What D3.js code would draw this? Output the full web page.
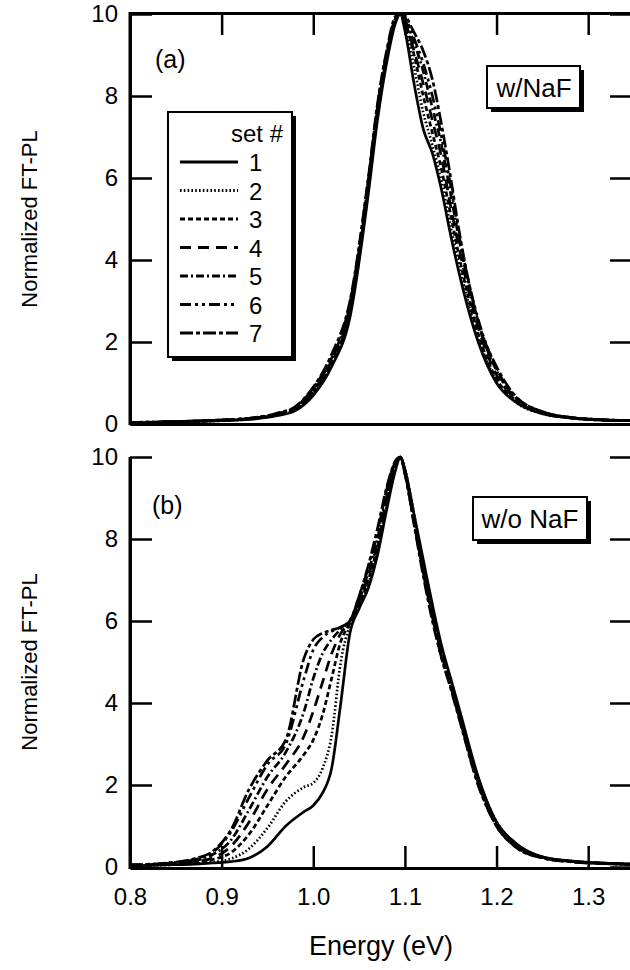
<!DOCTYPE html>
<html><head><meta charset="utf-8">
<script src="https://cdn.jsdelivr.net/npm/d3@7"></script>
<style>
html,body{margin:0;padding:0;background:#fff;}
svg{display:block;font-family:"Liberation Sans",Arial,Helvetica,sans-serif;}
</style></head>
<body>
<svg id="chart" width="630" height="970"></svg>
<script>
// ---------- data ----------
const setLabels = ["1","2","3","4","5","6","7"];
const xTicks = [0.8,0.9,1.0,1.1,1.2,1.3];
const yTicks = [0,2,4,6,8,10];

// panel (a): w/NaF
const energyA = [0.80,0.85,0.90,0.93,0.96,0.98,1.00,1.02,1.04,1.06,1.07,1.08,1.09,1.095,1.10,1.11,1.12,1.13,1.14,1.15,1.16,1.18,1.20,1.22,1.25,1.28,1.31,1.35];
const setA1 = [0.03,0.05,0.08,0.11,0.20,0.32,0.70,1.40,2.60,5.60,7.40,8.80,9.80,10, 9.60,8.30,7.20,6.60,5.70,4.60,3.60,2.00,1.00,0.55,0.25,0.15,0.10,0.08];
const setA2 = [0.03,0.05,0.08,0.12,0.22,0.35,0.75,1.45,2.70,5.70,7.50,8.90,9.85,10, 9.70,8.70,7.60,6.80,5.90,4.80,3.80,2.10,1.05,0.55,0.25,0.15,0.10,0.08];
const setA3 = [0.03,0.05,0.09,0.12,0.22,0.35,0.78,1.50,2.75,5.75,7.55,8.90,9.85,10, 9.80,9.00,8.00,7.10,6.20,5.10,4.00,2.20,1.10,0.60,0.27,0.15,0.10,0.08];
const setA4 = [0.03,0.05,0.09,0.13,0.23,0.36,0.80,1.55,2.80,5.80,7.60,8.95,9.90,10, 9.80,9.10,8.30,7.40,6.50,5.30,4.20,2.35,1.20,0.62,0.28,0.16,0.10,0.08];
const setA5 = [0.03,0.06,0.09,0.13,0.24,0.38,0.85,1.60,2.90,5.90,7.70,9.00,9.90,10, 9.85,9.30,8.60,7.70,6.80,5.60,4.40,2.45,1.30,0.65,0.30,0.16,0.11,0.08];
const setA6 = [0.04,0.06,0.10,0.14,0.25,0.40,0.88,1.65,2.95,5.95,7.75,9.05,9.90,10, 9.90,9.40,8.80,8.00,7.00,5.80,4.50,2.55,1.35,0.68,0.30,0.16,0.11,0.08];
const setA7 = [0.04,0.06,0.10,0.14,0.26,0.42,0.90,1.70,3.00,6.00,7.80,9.10,9.95,10, 9.95,9.55,9.10,8.40,7.30,6.00,4.60,2.50,1.40,0.70,0.30,0.16,0.11,0.08];

// panel (b): w/o NaF
const energyB = [0.80,0.84,0.87,0.89,0.91,0.93,0.95,0.97,0.99,1.00,1.01,1.02,1.03,1.04,1.05,1.06,1.07,1.08,1.09,1.095,1.10,1.11,1.12,1.13,1.14,1.15,1.16,1.18,1.20,1.22,1.25,1.28,1.31,1.35];
const setB1 = [0.03,0.05,0.07,0.10,0.13,0.22,0.50,1.00,1.35,1.50,1.80,2.40,4.00,5.70,6.30,6.80,7.60,8.70,9.70,10, 9.70,8.60,7.50,6.40,5.40,4.60,3.80,2.20,1.10,0.60,0.25,0.15,0.10,0.07];
const setB2 = [0.03,0.05,0.08,0.12,0.20,0.45,0.95,1.60,1.95,2.05,2.40,3.20,5.00,5.90,6.35,6.90,7.70,8.80,9.75,10, 9.70,8.60,7.40,6.30,5.30,4.50,3.70,2.15,1.10,0.58,0.25,0.15,0.10,0.07];
const setB3 = [0.03,0.06,0.10,0.18,0.35,0.80,1.50,2.20,2.75,3.10,3.70,4.60,5.50,5.95,6.40,7.00,7.80,8.90,9.80,10, 9.65,8.50,7.30,6.20,5.30,4.50,3.70,2.10,1.05,0.55,0.24,0.14,0.10,0.07];
const setB4 = [0.04,0.07,0.12,0.22,0.50,1.10,1.90,2.50,3.20,3.80,4.50,5.20,5.70,6.00,6.45,7.10,7.90,9.00,9.85,10, 9.65,8.50,7.30,6.20,5.20,4.45,3.65,2.10,1.05,0.55,0.24,0.14,0.10,0.07];
const setB5 = [0.04,0.08,0.15,0.30,0.65,1.40,2.20,2.80,3.80,4.60,5.20,5.55,5.80,6.00,6.50,7.20,8.00,9.10,9.90,10, 9.60,8.40,7.20,6.10,5.20,4.40,3.60,2.05,1.00,0.52,0.23,0.14,0.09,0.07];
const setB6 = [0.05,0.09,0.18,0.35,0.85,1.70,2.50,3.00,4.60,5.30,5.60,5.75,5.85,6.02,6.60,7.30,8.15,9.20,9.90,10, 9.60,8.40,7.20,6.10,5.10,4.40,3.60,2.00,1.00,0.50,0.22,0.13,0.09,0.06];
const setB7 = [0.05,0.10,0.20,0.38,0.90,1.90,2.60,3.10,5.10,5.55,5.70,5.78,5.85,6.00,6.60,7.35,8.25,9.25,9.92,10, 9.60,8.35,7.10,6.00,5.10,4.35,3.55,2.00,1.00,0.50,0.22,0.13,0.09,0.06];

const seriesA = [setA1,setA2,setA3,setA4,setA5,setA6,setA7];
const seriesB = [setB1,setB2,setB3,setB4,setB5,setB6,setB7];
const dashes = ["none","1.6,2.2","5,3","11,7","8,3,2,3","11,4,3,4,3,4","13,3,4,3"];

// ---------- drawing ----------
const svg = d3.select("#chart");
const x = d3.scaleLinear().domain([0.8,1.35]).range([130,634]);
const yA = d3.scaleLinear().domain([0,10]).range([424,14]);
const yB = d3.scaleLinear().domain([0,10]).range([867,457]);
const FS = 24;

function styleAxis(g){
  g.selectAll("path.domain").attr("stroke","#000").attr("stroke-width",3);
  g.selectAll(".tick line").attr("stroke","#000").attr("stroke-width",2.5);
  g.selectAll(".tick text").attr("font-size",FS).attr("fill","#000").attr("font-family","Liberation Sans, Arial, sans-serif");
}

function panel(y, energy, series, topFrame, bottomLabels){
  const line = (vals)=> d3.line().x((d,i)=>x(energy[i])).y(d=>y(d)).curve(d3.curveMonotoneX)(vals);
  const g = svg.append("g");
  series.forEach((vals,k)=>{
    g.append("path").attr("d",line(vals)).attr("fill","none").attr("stroke","#000")
      .attr("stroke-width",2.7).attr("stroke-dasharray",dashes[k]).attr("stroke-linejoin","round");
  });
  const yMin = y.range()[0], yMax = y.range()[1];
  svg.append("g").attr("transform","translate(130,0)")
    .call(d3.axisLeft(y).tickValues(yTicks).tickSize(-22).tickSizeOuter(0).tickPadding(12).tickFormat(d3.format("d")))
    .call(styleAxis);
  svg.append("g").attr("transform","translate(634,0)")
    .call(d3.axisRight(y).tickValues(yTicks).tickSize(-24).tickSizeOuter(0).tickFormat(""))
    .call(styleAxis);
  if(topFrame){
    svg.append("g").attr("transform",`translate(0,${yMax-1})`)
      .call(d3.axisTop(x).tickValues(xTicks.slice(1)).tickSize(-22).tickSizeOuter(0).tickFormat(""))
      .call(styleAxis);
    svg.append("g").attr("transform",`translate(0,${yMin})`)
      .call(d3.axisBottom(x).tickValues([]).tickSizeOuter(0))
      .call(styleAxis);
  }
  if(bottomLabels){
    svg.append("g").attr("transform",`translate(0,${yMin+1})`)
      .call(d3.axisBottom(x).tickValues(xTicks).tickSize(-22).tickSizeOuter(0).tickPadding(20).tickFormat(d3.format(".1f")))
      .call(styleAxis);
  }
}

panel(yA, energyA, seriesA, true, false);
panel(yB, energyB, seriesB, false, true);

svg.append("line").attr("x1",130).attr("x2",130).attr("y1",12).attr("y2",425).attr("stroke","#000").attr("stroke-width",3);
svg.append("line").attr("x1",130).attr("x2",130).attr("y1",457).attr("y2",869).attr("stroke","#000").attr("stroke-width",3);

// panel letters
svg.append("text").attr("x",155).attr("y",68).attr("font-size",25).text("(a)");
svg.append("text").attr("x",152).attr("y",514).attr("font-size",25).text("(b)");

function shadowBox(x0,y0,w,h){
  svg.append("rect").attr("x",x0+4).attr("y",y0+4).attr("width",w).attr("height",h).attr("fill","#000");
  svg.append("rect").attr("x",x0).attr("y",y0).attr("width",w).attr("height",h).attr("fill","#fff").attr("stroke","#000").attr("stroke-width",2);
}
shadowBox(487,66,93,42);
svg.append("text").attr("x",534).attr("y",97).attr("text-anchor","middle").attr("font-size",26).text("w/NaF");
shadowBox(473,497,114,43);
svg.append("text").attr("x",530).attr("y",528).attr("text-anchor","middle").attr("font-size",26).text("w/o NaF");

// legend
shadowBox(168,112,124,245);
svg.append("text").attr("x",283).attr("y",142).attr("text-anchor","end").attr("font-size",24).text("set #");
setLabels.forEach((lab,k)=>{
  const yy = 162 + k*28.5;
  svg.append("line").attr("x1",180).attr("x2",238).attr("y1",yy).attr("y2",yy)
    .attr("stroke","#000").attr("stroke-width",2.8).attr("stroke-dasharray",dashes[k]);
  svg.append("text").attr("x",249).attr("y",yy+9).attr("font-size",24).text(lab);
});

// axis titles
svg.append("text").attr("transform","translate(37,219) rotate(-90)").attr("text-anchor","middle").attr("font-size",22).text("Normalized FT-PL");
svg.append("text").attr("transform","translate(37,662) rotate(-90)").attr("text-anchor","middle").attr("font-size",22).text("Normalized FT-PL");
svg.append("text").attr("x",381).attr("y",955).attr("text-anchor","middle").attr("font-size",27).text("Energy (eV)");
</script>
</body></html>
